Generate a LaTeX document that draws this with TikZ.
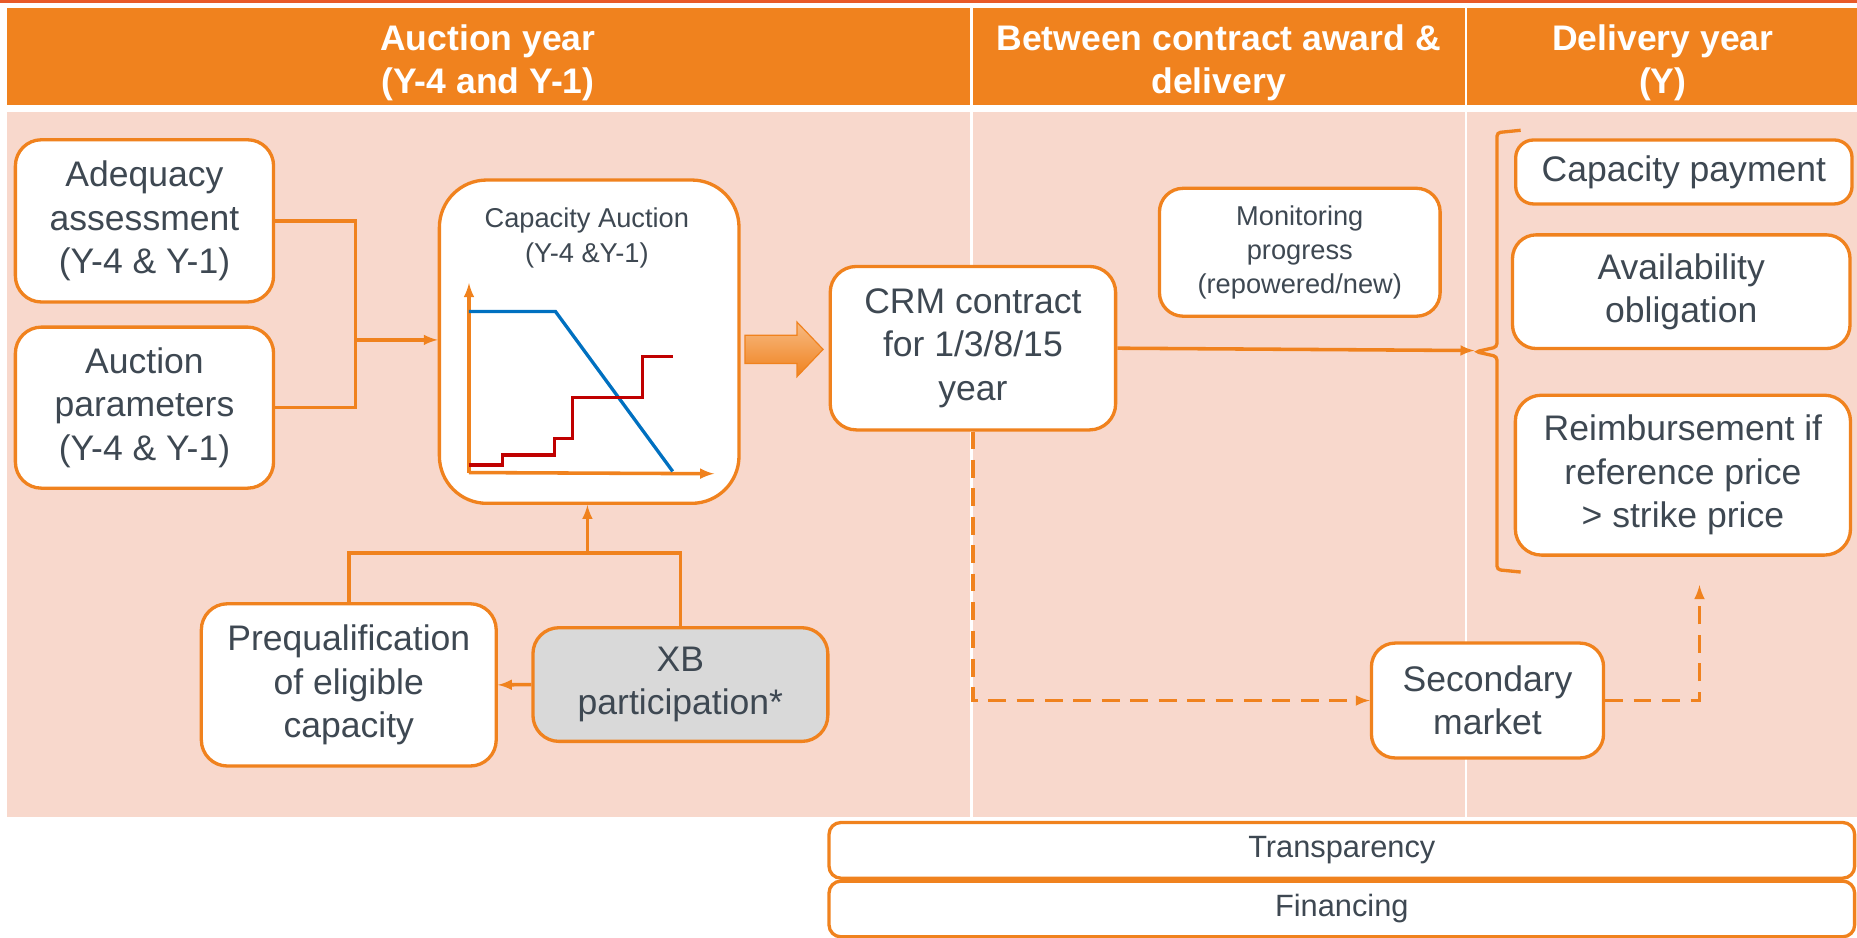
\documentclass[tikz,border=0pt]{standalone}
\usepackage{fontspec}
\setmainfont{Liberation Sans}
\definecolor{orangeF}{RGB}{240,130,30}
\definecolor{rose}{RGB}{248,216,204}
\definecolor{gristexte}{RGB}{62,72,82}
\definecolor{grisbox}{RGB}{217,217,217}
\definecolor{bleucourbe}{RGB}{0,112,192}
\definecolor{rougecourbe}{RGB}{192,0,0}
\definecolor{rougeligne}{RGB}{232,90,40}
\begin{document}
\begin{tikzpicture}[x=1pt,y=-1pt]
            \tikzstyle{boite}=[draw=orangeF,line width=2.8pt,fill=white,rounded corners=22pt,align=center,text=gristexte,inner sep=0pt,font=\fontsize{30}{36.6}\selectfont]
            \tikzstyle{petit}=[align=center,text=gristexte,font=\fontsize{23}{29}\selectfont]
            \tikzstyle{entete}=[align=center,text=white,font=\bfseries\fontsize{30}{36.6}\selectfont]
            \tikzstyle{lien}=[draw=orangeF,line width=3pt]
            \tikzstyle{tiret}=[draw=orangeF,line width=3pt,dash pattern=on 15pt off 9pt]
            \useasboundingbox (0,0) rectangle (1568,792);
            \fill[rougeligne] (0,0) rectangle (1568,2.5);
            \fill[orangeF] (6,7) rectangle (1568,88.7);
            \fill[rose] (6,94.3) rectangle (1568,689.8);
            \draw[white,line width=2pt] (820.4,7) -- (820.4,689.8);
            \draw[white,line width=2pt] (1237.8,7) -- (1237.8,689.8);
            \node[entete] (h1) at (412,53) {Auction year\\(Y-4 and Y-1)};
            \node[entete] (h2) at (1029,53) {Between contract award \&\\delivery};
            \node[entete] (h3) at (1404,53) {Delivery year\\(Y)};
            \node[boite,minimum width=218pt,minimum height=137pt] (adeq) at (122,186.5) {Adequacy\\assessment\\(Y-4 \& Y-1)};
            \node[boite,minimum width=218pt,minimum height=136pt] (param) at (122,344.2) {Auction\\parameters\\(Y-4 \& Y-1)};
            \node[boite,rounded corners=40pt,minimum width=253pt,minimum height=273pt] (enchere) at (497.5,288.5) {};
            \node[petit] (titre) at (495.5,201) {Capacity Auction\\(Y-4 \&Y-1)};
            \node[boite,minimum width=241pt,minimum height=138pt] (crm) at (821.5,294) {CRM contract\\for 1/3/8/15\\year};
            \node[boite,rounded corners=20pt,minimum width=237pt,minimum height=108pt,font=\fontsize{23}{28.5}\selectfont] (suivi) at (1097.5,213) {Monitoring\\progress\\(repowered/new)};
            \node[boite,rounded corners=15pt,minimum width=284pt,minimum height=54pt] (paie) at (1421.8,145.2) {Capacity payment};
            \node[boite,rounded corners=20pt,minimum width=285pt,minimum height=96pt] (dispo) at (1419.6,246.3) {Availability\\obligation};
            \node[boite,minimum width=283pt,minimum height=135pt] (rembours) at (1421,401.2) {Reimbursement if\\reference price\\> strike price};
            \node[boite,rounded corners=20pt,minimum width=196pt,minimum height=97pt] (second) at (1256,591.5) {Secondary\\market};
            \node[boite,minimum width=249pt,minimum height=137pt] (prequal) at (294.5,578.3) {Prequalification\\of eligible\\capacity};
            \node[boite,fill=grisbox,minimum width=249pt,minimum height=96pt] (xb) at (574.5,578) {XB\\participation*};
            \node[boite,rounded corners=10pt,minimum width=866pt,minimum height=47pt,font=\fontsize{26}{30}\selectfont] (transp) at (1133,718) {Transparency};
            \node[boite,rounded corners=10pt,minimum width=866pt,minimum height=47pt,font=\fontsize{26}{30}\selectfont] (financ) at (1133,767.5) {Financing};
            \coordinate (j1) at (300,287);
            \coordinate (j2) at (496,467);
            \coordinate (pointe) at (1245,296);
            \coordinate (fin) at (1435,494);
            \draw[lien] (adeq.east) -| (j1);
            \draw[lien] (param.east) -| (j1);
            \draw[lien,-latex] (j1) -- (j1 -| enchere.west);
            \draw[lien] (prequal.north) |- (j2);
            \draw[lien] (xb.north) |- (j2);
            \draw[lien,-latex] (j2) -- (j2 |- enchere.south);
            \draw[lien,-latex] (xb.west) -- (prequal.east);
            \draw[lien,-latex] (crm.east) -- (pointe);
            \draw[tiret,-latex] (crm.south) |- (second.west);
            \draw[tiret,-latex] (second.east) -| (fin);
            \draw[lien,line width=2.8pt,rounded corners=3pt] (1284,110) -- (1264,112) -- (1264,293) -- (1246,297) -- (1264,301) -- (1264,481) -- (1284,483);
            \draw[lien,-latex] (396,399) -- (396,239);
            \draw[lien,-latex] (396,399) -- (603,400);
            \draw[bleucourbe,line width=2.8pt] (396,263) -- (469,263) -- (568,398);
            \draw[rougecourbe,line width=2.8pt] (396,392.7) -- (424.5,392.7) -- (424.5,384.3) -- (468,384.3) -- (468,370.2) -- (483.4,370.2) -- (483.4,335.9) -- (542.5,335.9) -- (542.5,301.2) -- (568,301.2);
            \draw[orangeF,line width=1pt,top color=orangeF!55!white,bottom color=orangeF] (629,283) -- (673,283) -- (673,272) -- (695,295) -- (673,318) -- (673,307) -- (629,307) -- cycle;
        \end{tikzpicture}
\end{document}
